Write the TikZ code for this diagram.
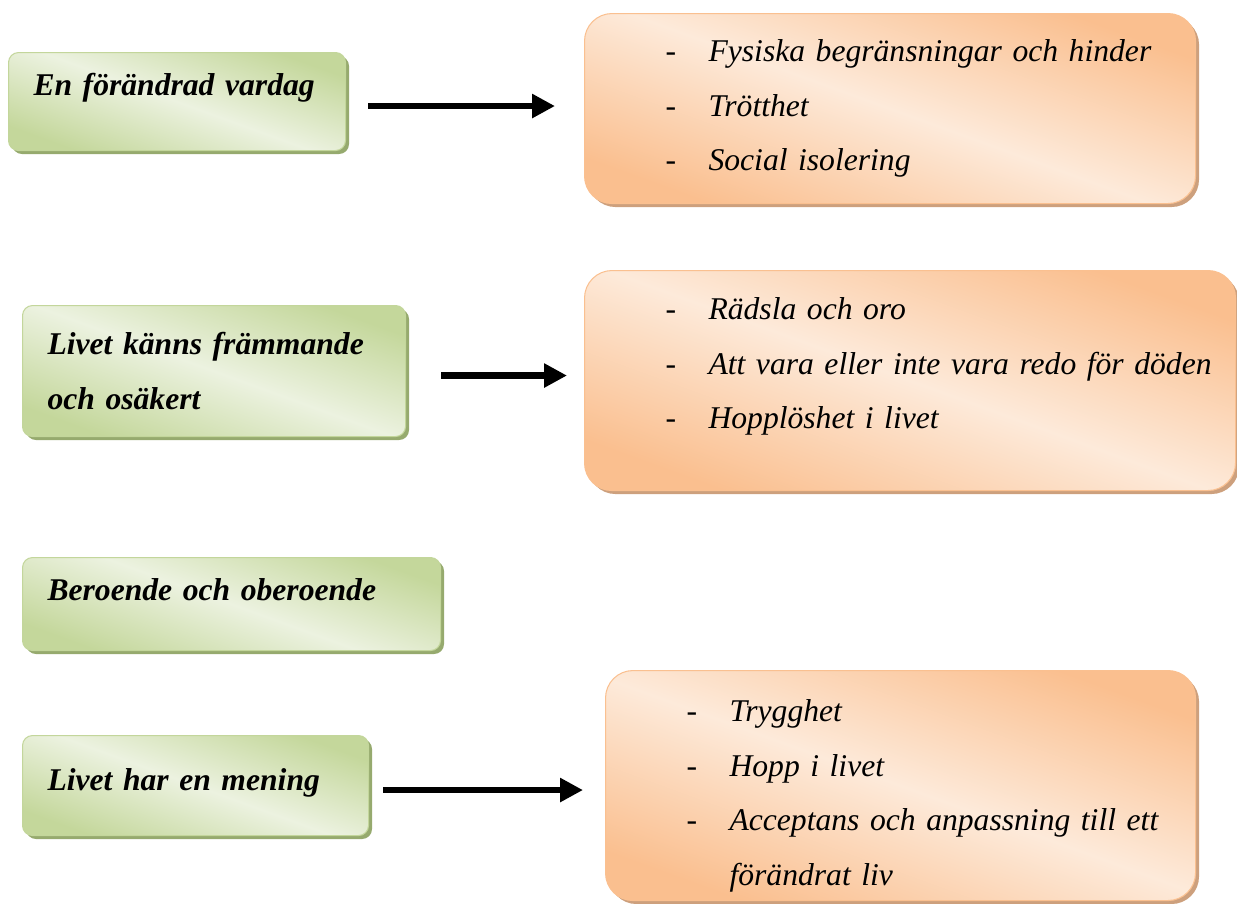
\documentclass[tikz,border=0pt]{standalone}
\usepackage{fontspec}
\setmainfont{Liberation Serif}
\definecolor{themeGreen}{RGB}{196,215,155}
\definecolor{themeGreenLight}{RGB}{236,242,224}
\definecolor{themeGreenLine}{RGB}{195,214,155}
\definecolor{themeGreenShadow}{RGB}{150,170,110}
\definecolor{themeOrange}{RGB}{250,191,143}
\definecolor{themeOrangeLight}{RGB}{253,234,218}
\definecolor{themeOrangeLine}{RGB}{250,192,144}
\definecolor{themeOrangeShadow}{RGB}{205,160,125}
\usetikzlibrary{arrows.meta,positioning,shadows,calc}
\newcommand{\dashitem}[1]{\hspace*{1.37cm}\makebox[0.86cm][l]{\upshape -}#1}

\begin{document}
\begin{tikzpicture}[
  theme/.style={anchor=north west, align=left, inner ysep=0pt, inner xsep=0.5cm,
                rounded corners=0.2cm, draw=themeGreenLine, line width=0.6pt,
                top color=themeGreen, bottom color=themeGreen, middle color=themeGreenLight,
                shading angle=-20,
                drop shadow={shadow xshift=0.07cm, shadow yshift=-0.07cm,
                             fill=themeGreenShadow, opacity=1},
                font=\fontsize{18}{31}\selectfont\bfseries\itshape},
  subtheme/.style={anchor=north west, align=left, inner ysep=0pt, inner xsep=0.25cm,
                rounded corners=0.55cm, draw=themeOrangeLine, line width=0.6pt,
                top color=themeOrange, bottom color=themeOrange, middle color=themeOrangeLight,
                shading angle=-20,
                drop shadow={shadow xshift=0.07cm, shadow yshift=-0.07cm,
                             fill=themeOrangeShadow, opacity=1},
                font=\fontsize{18}{31}\selectfont\itshape},
  arr/.style={-{Triangle[length=0.46cm, width=0.46cm]}, line width=3.8pt,
              transform canvas={yshift=-0.09cm}}
]
  \useasboundingbox (0,0) rectangle (24.74,-18.06);

  % themes
  \node[theme, text width=5.74cm, text height=0.86cm, text depth=1.10cm] (g1) at (0.16,-1.04)
    {En förändrad vardag};
  \node[theme, text width=6.66cm, minimum height=2.62cm] (g2) at (0.44,-6.10)
    {Livet känns främmande\\och osäkert};
  \node[theme, text width=7.36cm, text height=0.86cm, text depth=1.00cm] (g3) at (0.44,-11.14)
    {Beroende och oberoende};
  \node[theme, text width=5.92cm, text height=1.10cm, text depth=0.90cm] (g4) at (0.44,-14.70)
    {Livet har en mening};

  % subthemes
  \node[subtheme, text width=11.72cm, minimum height=3.80cm] (o1) at (11.68,-0.26)
    {\dashitem{Fysiska begränsningar och hinder}\\
     \dashitem{Trötthet}\\
     \dashitem{Social isolering}};
  \node[subtheme, text width=12.52cm, minimum height=4.40cm] (o2) at (11.68,-5.40)
    {\dashitem{Rädsla och oro}\\
     \dashitem{Att vara eller inte vara redo för döden}\\
     \dashitem{Hopplöshet i livet}\rule[-0.70cm]{0pt}{0pt}};
  \node[subtheme, text width=11.30cm, minimum height=4.60cm] (o4) at (12.10,-13.40)
    {\rule{0pt}{0.85cm}\dashitem{Trygghet}\\
     \dashitem{Hopp i livet}\\
     \dashitem{Acceptans och anpassning till ett}\\
     \hspace*{2.23cm}förändrat liv};

  \draw[arr, shorten <=0.44cm, shorten >=0.58cm] (g1.east) -- (g1.east -| o1.west);
  \draw[arr, shorten <=0.70cm, shorten >=0.34cm] (g2.east) -- (g2.east -| o2.west);
  \draw[arr, shorten <=0.28cm, shorten >=0.44cm] (g4.east) -- (g4.east -| o4.west);
\end{tikzpicture}
\end{document}
